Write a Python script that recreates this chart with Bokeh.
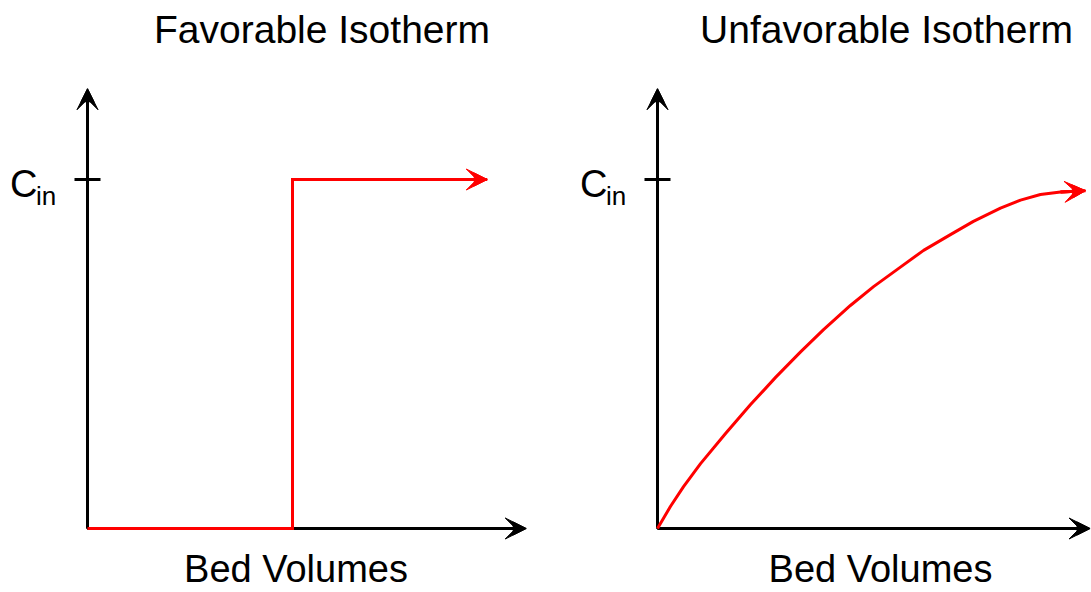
from bokeh.plotting import figure
from bokeh.layouts import row
from bokeh.models import Arrow, VeeHead, NormalHead, Label, Range1d
from bokeh.embed import file_html
from bokeh.resources import INLINE

# ---------------- data ----------------
c_in = 1.0                      # normalised inlet concentration
y_axis_max = 1.26               # top of the concentration axis
fav_axis_max = 2.14             # end of the bed-volume axis (left panel)
unfav_axis_max = 2.11           # end of the bed-volume axis (right panel)

fav_bv = [0.0, 1.0, 1.0, 1.95]
fav_c = [0.0, 0.0, 1.0, 1.0]

unfav_bv = [0.0, 0.063, 0.127, 0.210, 0.332, 0.454, 0.576, 0.698, 0.810, 0.941, 1.054,
            1.185, 1.298, 1.429, 1.541, 1.673, 1.771, 1.868, 1.966, 2.088]
unfav_c = [0.0, 0.063, 0.120, 0.186, 0.272, 0.355, 0.433, 0.506, 0.570, 0.639, 0.693,
           0.749, 0.797, 0.842, 0.880, 0.918, 0.941, 0.957, 0.964, 0.968]

titles = ["Favorable Isotherm", "Unfavorable Isotherm"]
x_label = "Bed Volumes"
y_tick_main = "C"
y_tick_sub = "in"

FONT = "Liberation Sans"
RED = "#ff0000"
H = 592


def add_arrow(p, x0, y0, x1, y1, color, level):
    p.add_layout(Arrow(end=VeeHead(size=21, fill_color=color, line_color=color, line_width=1),
                       x_start=x0, y_start=y0, x_end=x1, y_end=y1,
                       line_width=3, line_color=color, level=level))
    p.add_layout(Arrow(end=NormalHead(size=13, fill_color=color, line_color=color, line_width=1),
                       x_start=x0, y_start=y0, x_end=x1, y_end=y1,
                       line_width=3, line_color=color, level=level))


def make_panel(width, page_x0, origin_px, sx, sy, bv, conc, axis_max, title,
               title_cx, xlabel_cx, c_right, step=False):
    ox, oy = origin_px
    to_x = lambda px: (px - ox) / sx
    to_y = lambda py: (oy - py) / sy
    p = figure(width=width, height=H, output_backend="svg", toolbar_location=None,
               x_range=Range1d(to_x(page_x0), to_x(page_x0 + width)),
               y_range=Range1d(to_y(H), to_y(0)),
               x_axis_location=None, y_axis_location=None, min_border=0,
               outline_line_color=None, background_fill_color="white",
               border_fill_color="white")
    p.grid.visible = False

    add_arrow(p, 0, 0, axis_max, 0, "black", "underlay")
    add_arrow(p, 0, 0, 0, y_axis_max, "black", "underlay")
    p.scatter(x=[0], y=[c_in], marker="dash", size=26, line_width=3, line_color="black")

    p.line(x=bv, y=conc, line_color=RED, line_width=3,
           line_join="miter" if step else "round")
    add_arrow(p, bv[-2], conc[-2], bv[-1], conc[-1], RED, "annotation")

    # text (Label's alphabetic baseline sits ~0.35 em lower than the given y)
    p.add_layout(Label(x=to_x(title_cx), y=to_y(42 - 13.5), text=title, text_font=FONT,
                       text_font_size="39px", text_align="center",
                       text_baseline="alphabetic", text_color="black"))
    p.add_layout(Label(x=to_x(xlabel_cx), y=to_y(582 - 13.3), text=x_label, text_font=FONT,
                       text_font_size="38px", text_align="center",
                       text_baseline="alphabetic", text_color="black"))
    p.add_layout(Label(x=to_x(c_right + 1), y=to_y(197 - 13.3), text=y_tick_main,
                       text_font=FONT, text_font_size="38px", text_align="right",
                       text_baseline="alphabetic", text_color="black"))
    p.add_layout(Label(x=to_x(c_right - 0.5), y=to_y(204 - 9), text=y_tick_sub,
                       text_font=FONT, text_font_size="26px", text_align="left",
                       text_baseline="alphabetic", text_color="black"))
    return p


p1 = make_panel(545, 0, (87, 528), 205, 349, fav_bv, fav_c, fav_axis_max,
                titles[0], 321.5, 295.5, 36, step=True)
p2 = make_panel(546, 545, (657, 528), 205, 349, unfav_bv, unfav_c, unfav_axis_max,
                titles[1], 886, 880, 606)

layout = row(p1, p2)
open("out.html", "w").write(file_html(layout, INLINE))
